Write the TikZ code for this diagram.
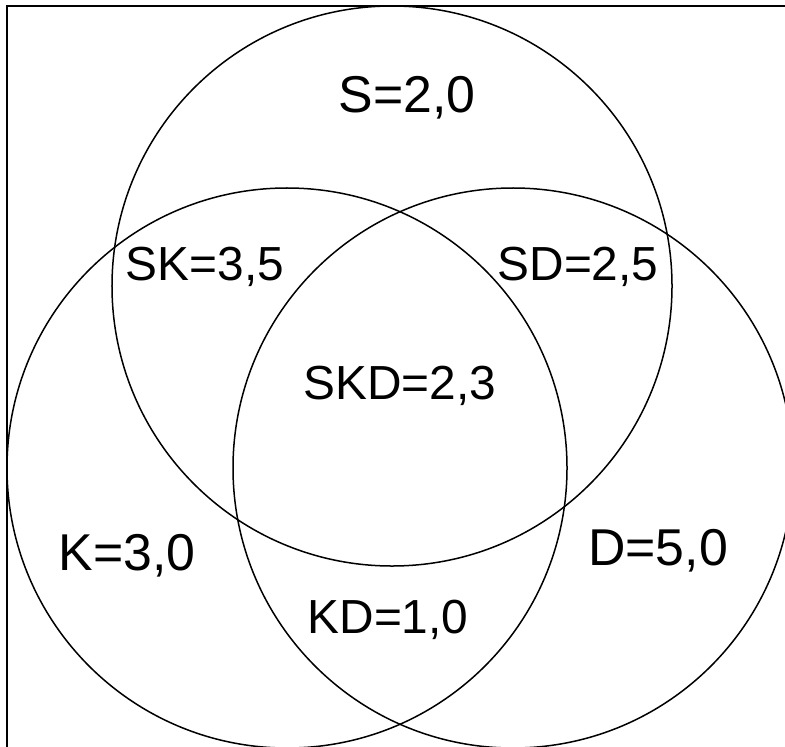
\documentclass[tikz,border=0pt]{standalone}
\usepackage{fontspec}
\setmainfont{Liberation Sans}
\usepackage{xcolor}
\definecolor{cLine}{HTML}{000000}
\usepackage{tikz}
\usetikzlibrary{positioning}
\tikzset{
  venn-set/.style={draw=cLine,line width=1.5bp,circle,
    minimum size=560bp,inner sep=0pt},
  venn-frame/.style={draw=cLine,line width=2bp},
  label-outer/.style={anchor=base,inner sep=0pt,
    font=\fontsize{52}{60}\selectfont},
  label-inner/.style={anchor=base,inner sep=0pt,
    font=\fontsize{48}{56}\selectfont},
}

\begin{document}
\begin{tikzpicture}[x=1bp,y=-1bp]
  \clip (0,0) rectangle (785,747);
  \draw[venn-frame] (7,6) rectangle (820,780);
  % three sets
  \node[venn-set] (setS) at (392,286) {};
  \node[venn-set] (setK) at (287,468) {};
  \node[venn-set] (setD) at (513,468) {};
  % region values
  \node[label-outer] (valS) at (407,112) {S=2,0};
  \node[label-outer] (valK) at (127,570) {K=3,0};
  \node[label-outer] (valD) at (658,565) {D=5,0};
  \node[label-inner] (valSK)  at (205,280) {SK=3,5};
  \node[label-inner] (valSD)  at (578,280) {SD=2,5};
  \node[label-inner] (valSKD) at (400,399) {SKD=2,3};
  \node[label-inner] (valKD)  at (388,633) {KD=1,0};
\end{tikzpicture}
\end{document}
